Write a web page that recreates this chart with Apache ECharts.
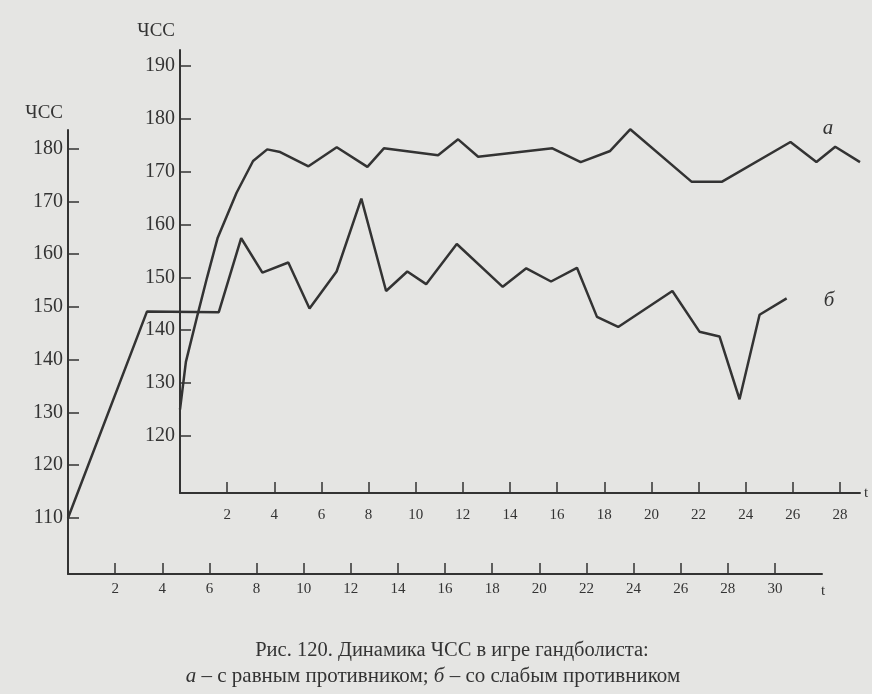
<!DOCTYPE html>
<html>
<head>
<meta charset="utf-8">
<script src="https://cdn.jsdelivr.net/npm/echarts@6/dist/echarts.min.js"></script>
<style>
html, body { margin: 0; padding: 0; background: #e5e5e3; }
#chart { width: 872px; height: 694px; }
</style>
</head>
<body>
<div id="chart"></div>
<script>
// кривая а - с равным противником (внутренние оси)
var timeA = [0, 0.25, 0.75, 1.15, 1.6, 2.4, 3.1, 3.7, 4.25, 5.45, 6.65, 7.95, 8.65, 10.95, 11.8, 12.65, 15.8, 17, 18.25, 19.1, 21.7, 23, 25.9, 27, 27.8, 28.85]
var hrA = [125, 134, 143, 150, 157.5, 166, 172, 174.2, 173.7, 171, 174.6, 170.9, 174.4, 173.1, 176.1, 172.8, 174.4, 171.8, 173.9, 178, 168.1, 168.1, 175.6, 171.8, 174.7, 171.8]
// кривая б - со слабым противником (внешние оси)
var timeB = [0, 3.35, 6.4, 7.35, 8.25, 9.35, 10.25, 11.4, 12.45, 13.5, 14.4, 15.2, 16.5, 18.45, 19.45, 20.5, 21.6, 22.45, 23.35, 25.65, 26.8, 27.65, 28.5, 29.35, 30.5]
var hrB = [110, 149.1, 149, 163, 156.5, 158.4, 149.7, 156.7, 170.5, 153, 156.7, 154.3, 161.9, 153.8, 157.3, 154.8, 157.4, 148.1, 146.2, 153, 145.3, 144.4, 132.5, 148.5, 151.6]

var xTicksOuter = [2, 4, 6, 8, 10, 12, 14, 16, 18, 20, 22, 24, 26, 28, 30]
var xTicksInner = [2, 4, 6, 8, 10, 12, 14, 16, 18, 20, 22, 24, 26, 28]
var yTicksOuter = [110, 120, 130, 140, 150, 160, 170, 180]
var yTicksInner = [120, 130, 140, 150, 160, 170, 180, 190]

function pairs (xs, ys) {
  return xs.map(function (x, i) { return [x, ys[i]] })
}

var ink = '#333333'
var serif = 'Liberation Serif'

function xAxisOf (grid, max, ticks, margin) {
  return {
    gridIndex: grid,
    type: 'value',
    min: 0,
    max: max,
    axisLine: { onZero: false, lineStyle: { color: ink, width: 2 } },
    axisTick: { inside: true, length: 11, customValues: ticks, lineStyle: { color: ink, width: 1.5 } },
    axisLabel: { customValues: ticks, margin: margin, fontSize: 15, fontFamily: serif, color: ink },
    splitLine: { show: false }
  }
}

function yAxisOf (grid, min, max, ticks, gap) {
  return {
    gridIndex: grid,
    type: 'value',
    min: min,
    max: max,
    axisLine: { show: true, onZero: false, lineStyle: { color: ink, width: 2 } },
    axisTick: { show: true, inside: true, length: 11, customValues: ticks, lineStyle: { color: ink, width: 1.5 } },
    axisLabel: { customValues: ticks, margin: 5, fontSize: 20, fontFamily: serif, color: ink },
    splitLine: { show: false },
    name: 'ЧСС',
    nameLocation: 'end',
    nameGap: gap,
    nameTextStyle: { align: 'right', padding: [0, 5, 0, 0], fontSize: 19, fontFamily: serif, color: ink }
  }
}

var myChart = echarts.init(document.getElementById('chart'))

var option = {
  backgroundColor: '#e5e5e3',
  animation: false,
  grid: [
    { left: 68, top: 130, width: 754, height: 444, containLabel: false, outerBoundsMode: 'none' },
    { left: 180, top: 50, width: 680, height: 443, containLabel: false, outerBoundsMode: 'none' }
  ],
  xAxis: [
    xAxisOf(0, 32, xTicksOuter, 8),
    Object.assign(xAxisOf(1, 28.85, xTicksInner, 15), {
      name: 't',
      nameLocation: 'end',
      nameGap: 4,
      nameTextStyle: { fontSize: 15, fontFamily: serif, color: ink }
    })
  ],
  yAxis: [
    yAxisOf(0, 99.4, 183.5, yTicksOuter, 7),
    yAxisOf(1, 109.2, 193, yTicksInner, 9)
  ],
  series: [
    {
      name: 'б',
      type: 'line',
      xAxisIndex: 0,
      yAxisIndex: 0,
      data: pairs(timeB, hrB),
      symbol: 'none',
      lineStyle: { color: ink, width: 2.5 }
    },
    {
      name: 'а',
      type: 'line',
      xAxisIndex: 1,
      yAxisIndex: 1,
      data: pairs(timeA, hrA),
      symbol: 'none',
      lineStyle: { color: ink, width: 2.5 }
    }
  ],
  graphic: [
    { type: 'text', silent: true, style: { x: 823, y: 591, text: 't', font: '15px "Liberation Serif"', fill: ink, align: 'center', verticalAlign: 'middle' } },
    { type: 'text', silent: true, style: { x: 828, y: 128, text: 'а', font: 'italic 21px "Liberation Serif"', fill: ink, align: 'center', verticalAlign: 'middle' } },
    { type: 'text', silent: true, style: { x: 829, y: 300, text: 'б', font: 'italic 21px "Liberation Serif"', fill: ink, align: 'center', verticalAlign: 'middle' } },
    { type: 'text', silent: true, style: { x: 452, y: 651, text: 'Рис. 120. Динамика ЧСС в игре гандболиста:', font: '20.5px "Liberation Serif"', fill: ink, align: 'center', verticalAlign: 'middle' } },
    {
      type: 'text',
      silent: true,
      style: {
        x: 433,
        y: 676,
        text: '{i|а} – с равным противником; {i|б} – со слабым противником',
        font: '21px "Liberation Serif"',
        fill: ink,
        align: 'center',
        verticalAlign: 'middle',
        rich: { i: { fontStyle: 'italic', fontSize: 21, fontFamily: serif, fill: ink } }
      }
    }
  ]
}

myChart.setOption(option)
</script>
</body>
</html>
